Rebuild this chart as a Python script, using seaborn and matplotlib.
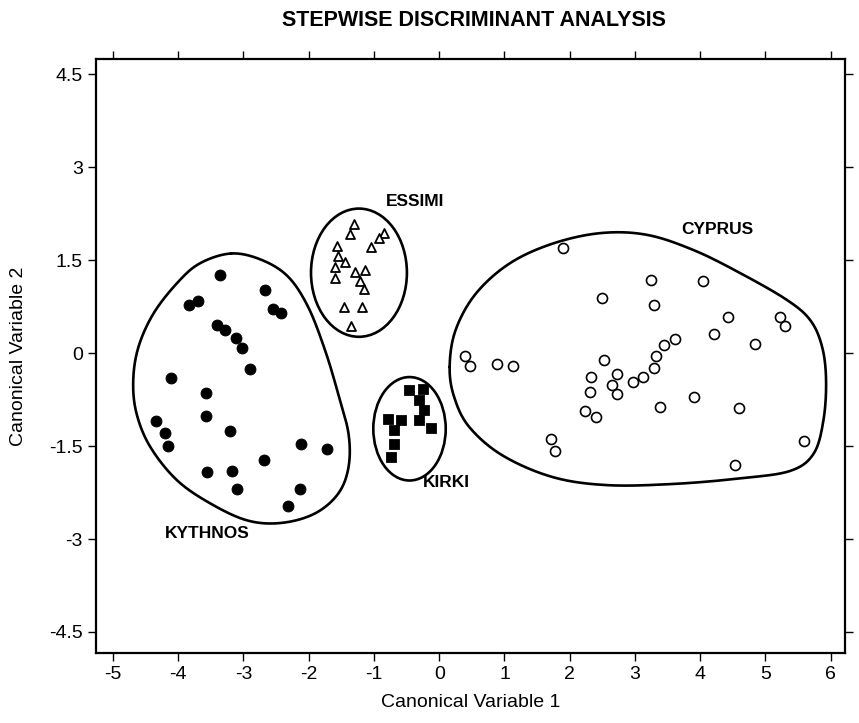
import numpy as np
import pandas as pd
import matplotlib
matplotlib.use('Agg')
import matplotlib.pyplot as plt
from matplotlib.patches import Ellipse
import seaborn as sns

# group scores (canonical variable 1, canonical variable 2)
kythnos_x = [-3.36, -2.67, -3.84, -3.70, -2.55, -2.42, -3.41, -3.28, -3.11, -3.03, -2.90, -4.11, -3.58,
             -3.58, -4.34, -4.20, -4.15, -3.20, -2.12, -1.72, -2.68, -3.56, -3.17, -3.10, -2.14, -2.32]
kythnos_y = [1.27, 1.02, 0.78, 0.85, 0.72, 0.65, 0.46, 0.37, 0.25, 0.08, -0.26, -0.40, -0.65,
             -1.01, -1.09, -1.28, -1.49, -1.26, -1.47, -1.55, -1.72, -1.92, -1.90, -2.19, -2.19, -2.46]

essimi_x = [-1.31, -1.37, -0.84, -0.93, -1.56, -1.05, -1.55, -1.44, -1.59, -1.29, -1.13, -1.59, -1.21,
            -1.16, -1.46, -1.19, -1.35]
essimi_y = [2.09, 1.92, 1.94, 1.86, 1.73, 1.72, 1.57, 1.48, 1.39, 1.31, 1.35, 1.22, 1.17,
            1.03, 0.74, 0.74, 0.44]

kirki_x = [-0.47, -0.25, -0.31, -0.24, -0.79, -0.58, -0.31, -0.12, -0.69, -0.69, -0.74]
kirki_y = [-0.59, -0.58, -0.76, -0.92, -1.07, -1.08, -1.08, -1.21, -1.24, -1.47, -1.68]

cyprus_x = [1.90, 3.25, 4.05, 2.49, 3.29, 4.43, 5.22, 5.30, 4.21, 3.61, 4.84, 3.44, 3.33, 0.39, 0.47,
            0.88, 1.13, 2.52, 3.30, 2.72, 3.12, 2.33, 2.97, 2.65, 2.31, 2.73, 3.91, 3.39, 4.60, 2.24,
            2.40, 1.72, 1.78, 5.59, 4.53]
cyprus_y = [1.70, 1.18, 1.16, 0.89, 0.78, 0.58, 0.59, 0.44, 0.31, 0.23, 0.15, 0.13, -0.05, -0.05, -0.21,
            -0.17, -0.20, -0.11, -0.24, -0.33, -0.38, -0.39, -0.47, -0.51, -0.62, -0.66, -0.71, -0.87, -0.88, -0.94,
            -1.03, -1.38, -1.58, -1.41, -1.80]

# hand drawn group boundaries
kythnos_outline_x = [-3.19, -2.73, -2.32, -2.01, -1.75, -1.55, -1.39, -1.39, -1.55, -1.91, -2.42,
                     -2.94, -3.50, -4.02, -4.43, -4.64, -4.69, -4.61, -4.38, -4.02, -3.67]
kythnos_outline_y = [1.61, 1.51, 1.24, 0.75, 0.05, -0.65, -1.30, -1.84, -2.27, -2.59, -2.74,
                     -2.70, -2.43, -2.05, -1.51, -0.97, -0.44, 0.10, 0.64, 1.13, 1.45]
cyprus_outline_x = [0.16, 0.25, 0.56, 1.08, 1.74, 2.48, 3.19, 3.91, 4.62, 5.33, 5.69, 5.87, 5.93,
                    5.89, 5.74, 5.38, 4.62, 3.60, 2.58, 1.74, 0.97, 0.46, 0.23]
cyprus_outline_y = [-0.22, 0.37, 0.96, 1.45, 1.77, 1.94, 1.91, 1.66, 1.29, 0.86, 0.53, 0.10, -0.44,
                    -1.08, -1.62, -1.90, -2.02, -2.11, -2.13, -2.00, -1.65, -1.19, -0.71]
essimi_ellipse = (-1.23, 1.30, 1.47, 2.07)   # centre x, centre y, width, height
kirki_ellipse = (-0.455, -1.22, 1.11, 1.67)

group_labels = ['KYTHNOS', 'ESSIMI', 'KIRKI', 'CYPRUS']
label_x = [-3.55, -0.37, 0.11, 4.26]
label_y = [-2.91, 2.45, -2.08, 1.99]

x_ticks = [-5, -4, -3, -2, -1, 0, 1, 2, 3, 4, 5, 6]
y_ticks = [-4.5, -3, -1.5, 0, 1.5, 3, 4.5]
y_ticklabels = ['-4.5', '-3', '-1.5', '0', '1.5', '3', '4.5']


def closed_curve(px, py, n=40):
    # periodic catmull-rom through the outline points
    p = np.column_stack([px, py])
    m = len(p)
    out = []
    for i in range(m):
        p0, p1, p2, p3 = p[(i - 1) % m], p[i], p[(i + 1) % m], p[(i + 2) % m]
        t = np.linspace(0, 1, n, endpoint=False)[:, None]
        seg = 0.5 * ((2 * p1) + (-p0 + p2) * t + (2 * p0 - 5 * p1 + 4 * p2 - p3) * t ** 2
                     + (-p0 + 3 * p1 - 3 * p2 + p3) * t ** 3)
        out.append(seg)
    out = np.vstack(out + [out[0][:1]])
    return out[:, 0], out[:, 1]


sns.set_style('ticks')
plt.rcParams['font.family'] = ['Liberation Sans', 'DejaVu Sans']
plt.rcParams['axes.unicode_minus'] = False
plt.rcParams['text.color'] = 'black'
plt.rcParams['axes.labelcolor'] = 'black'

fig = plt.figure(figsize=(8.59, 7.23), dpi=100)
ax = fig.add_axes([0.1118, 0.0968, 0.8719, 0.8216])

kyth = pd.DataFrame({'cv1': kythnos_x, 'cv2': kythnos_y})
ess = pd.DataFrame({'cv1': essimi_x, 'cv2': essimi_y})
kir = pd.DataFrame({'cv1': kirki_x, 'cv2': kirki_y})
cyp = pd.DataFrame({'cv1': cyprus_x, 'cv2': cyprus_y})

sns.scatterplot(data=kyth, x='cv1', y='cv2', marker='o', s=62, color='black', edgecolor='black', ax=ax, zorder=3)
sns.scatterplot(data=ess, x='cv1', y='cv2', marker='^', s=42, facecolor='white', edgecolor='black',
                linewidth=1.3, ax=ax, zorder=3)
sns.scatterplot(data=kir, x='cv1', y='cv2', marker='s', s=52, color='black', edgecolor='black', ax=ax, zorder=3)
sns.scatterplot(data=cyp, x='cv1', y='cv2', marker='o', s=52, facecolor='white', edgecolor='black',
                linewidth=1.2, ax=ax, zorder=3)

cx, cy = closed_curve(kythnos_outline_x, kythnos_outline_y)
ax.plot(cx, cy, color='black', lw=1.9)
cx, cy = closed_curve(cyprus_outline_x, cyprus_outline_y)
ax.plot(cx, cy, color='black', lw=1.9)
for ex, ey, ew, eh in [essimi_ellipse, kirki_ellipse]:
    ax.add_patch(Ellipse((ex, ey), ew, eh, fill=False, edgecolor='black', lw=1.9))

for lab, lx, ly in zip(group_labels, label_x, label_y):
    ax.text(lx, ly, lab, ha='center', va='center', fontsize=12.5, fontweight='bold', color='black')

ax.set_xlim(-5.26, 6.22)
ax.set_ylim(-4.84, 4.75)
ax.set_xticks(x_ticks)
ax.set_yticks(y_ticks)
ax.set_yticklabels(y_ticklabels)
ax.tick_params(direction='out', length=6, width=1, top=True, right=True, labelsize=14,
               colors='black', labelcolor='black')
for sp in ax.spines.values():
    sp.set_linewidth(1.6)
    sp.set_color('black')
ax.set_xlabel('Canonical Variable 1', fontsize=14, labelpad=8)
ax.set_ylabel('Canonical Variable 2', fontsize=14, labelpad=16)
fig.text(0.552, 0.972, 'STEPWISE DISCRIMINANT ANALYSIS', ha='center', va='center',
         fontsize=15.5, fontweight='bold', color='black')

fig.savefig('out.png', dpi=100)
